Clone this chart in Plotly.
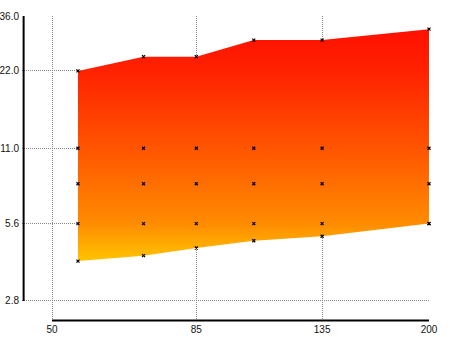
import math
import plotly.graph_objects as go

# ---- data ----
x_vals = [55, 70, 85, 105, 135, 200]
y_upper = [22, 25, 25, 29, 29, 32]
y_lower = [4.0, 4.2, 4.5, 4.8, 5.0, 5.6]
y_levels = [5.6, 8, 11]

x_ticks = [50, 85, 135, 200]
x_ticktext = ["50", "85", "135", "200"]
y_ticks = [2.8, 5.6, 11.0, 22.0, 36.0]
y_ticktext = ["2.8", "5.6", "11.0", "22.0", "36.0"]

# ---- build traces ----
poly_x = x_vals + x_vals[::-1]
poly_y = y_upper + y_lower[::-1]

fill = go.Scatter(
    x=poly_x, y=poly_y, mode="lines", fill="toself",
    line=dict(width=0, color="rgba(0,0,0,0)"),
    fillgradient=dict(
        type="vertical",
        colorscale=[[0.0, "#FFC400"], [0.16, "#FF8C00"], [0.49, "#FF5400"],
                    [0.82, "#FF2200"], [1.0, "#FF1000"]],
    ),
    hoverinfo="skip", showlegend=False,
)

mx, my = [], []
for i, xv in enumerate(x_vals):
    for yv in [y_lower[i]] + y_levels + [y_upper[i]]:
        mx.append(xv)
        my.append(yv)

markers = go.Scatter(
    x=mx, y=my, mode="markers",
    marker=dict(symbol="x-thin", size=3, line=dict(width=1.2, color="black"), color="black"),
    showlegend=False, cliponaxis=False,
)

# vertical axis line (offset to the left of the data) and horizontal axis line
yaxis_line = go.Scatter(
    x=[0, 0], y=[y_ticks[0], y_ticks[-1]], mode="lines", xaxis="x2", yaxis="y",
    line=dict(color="black", width=2), hoverinfo="skip", showlegend=False,
)
xaxis_line = go.Scatter(
    x=[x_ticks[0], x_ticks[-1]], y=[0, 0], mode="lines", xaxis="x", yaxis="y2",
    line=dict(color="black", width=2), hoverinfo="skip", showlegend=False,
)

fig = go.Figure([fill, markers, yaxis_line, xaxis_line])

grid = dict(showgrid=True, gridcolor="#888", griddash="1px,1px", gridwidth=1,
            showline=False, zeroline=False, ticks="", automargin=False)

lx0 = math.log10(x_ticks[0]) - 0.048
fig.update_layout(
    width=450, height=337,
    margin=dict(l=22, r=21, t=16, b=15, autoexpand=False),
    paper_bgcolor="white", plot_bgcolor="white",
    font=dict(family="Liberation Sans, Arial, sans-serif", size=10, color="#111"),
    xaxis=dict(
        type="log", range=[lx0, math.log10(x_ticks[-1])],
        tickvals=x_ticks, ticktext=x_ticktext, ticklabelstandoff=0, **grid,
    ),
    yaxis=dict(
        type="log", range=[0.365, math.log10(y_ticks[-1])],
        tickvals=y_ticks, ticktext=y_ticktext, ticklabelstandoff=2, **grid,
    ),
    xaxis2=dict(overlaying="x", range=[-0.004, 1], visible=False, showgrid=False),
    yaxis2=dict(overlaying="y", range=[-0.005, 1], visible=False, showgrid=False),
)

fig.write_html("out.html", config={"displayModeBar": False},
               post_script="document.body.style.margin='0';document.body.style.overflow='hidden';")
